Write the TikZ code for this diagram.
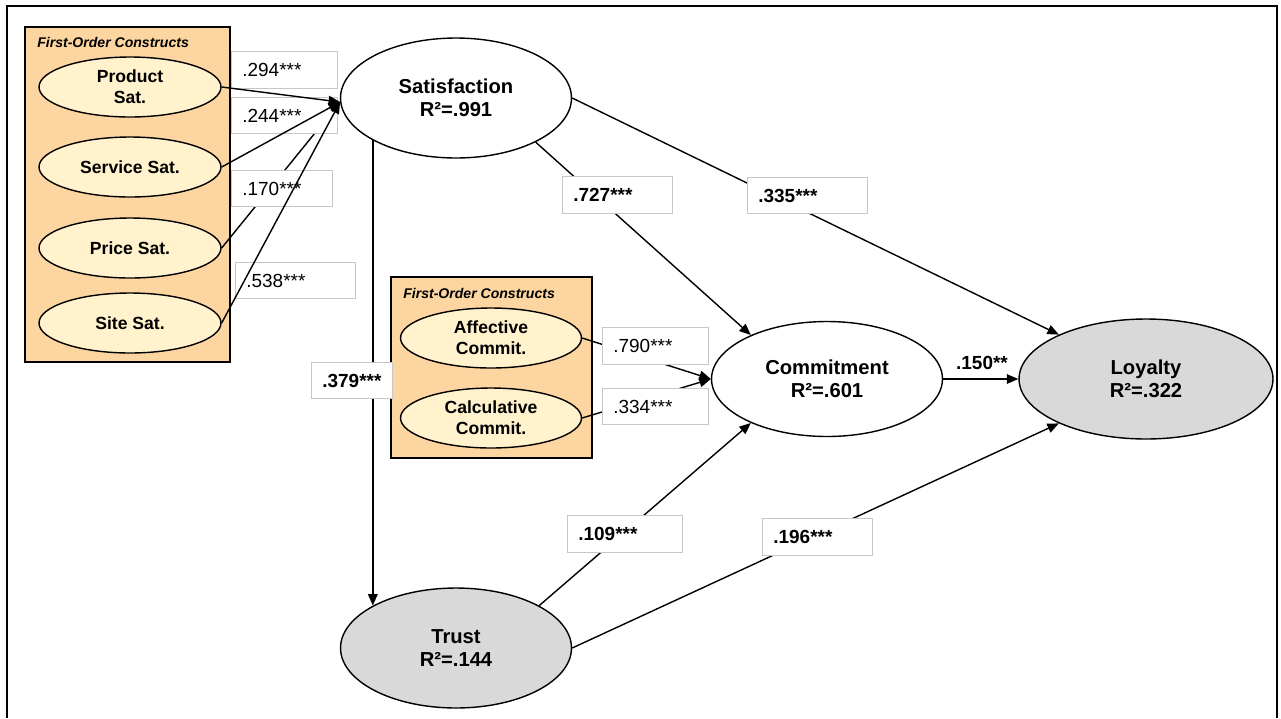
\documentclass[tikz,border=0pt]{standalone}
\usepackage{fontspec}
\setmainfont{Liberation Sans}
\usetikzlibrary{shapes.geometric,arrows.meta}
\definecolor{peach}{RGB}{252,213,160}
\definecolor{cream}{RGB}{255,242,204}
\definecolor{shade}{RGB}{217,217,217}
\begin{document}
\begin{tikzpicture}[x=0.02cm, y=-0.02cm, >={Triangle[length=2.3mm,width=1.9mm]},
    construct/.style={ellipse, draw, line width=0.8pt, align=center, inner sep=0pt,
        minimum width=4.62cm, minimum height=2.4cm, font=\fontsize{11.5}{13}\selectfont\bfseries},
    facet/.style={ellipse, draw, line width=0.8pt, fill=cream, align=center, inner sep=0pt,
        minimum width=3.64cm, minimum height=1.2cm, font=\fontsize{10}{12}\selectfont\bfseries},
    group/.style={draw, line width=0.8pt, fill=peach},
    grouptitle/.style={anchor=west, inner sep=0pt, font=\fontsize{8}{9}\selectfont\bfseries\itshape},
    coef/.style={draw=black!22, fill=white, anchor=west, inner xsep=0.22cm, minimum height=0.73cm,
        text width=#1, align=left, font=\fontsize{10.8}{12}\selectfont},
    link/.style={line width=0.8pt}]
    \useasboundingbox (0,0) rectangle (1281,718);
    \draw[line width=1.1pt] (7,718) -- (7,6) -- (1277,6) -- (1277,718);

    % first-order groups
    \draw[group] (25,27) rectangle (230,362);
    \node[grouptitle] (title1) at (37,42) {First-Order Constructs};
    \draw[group] (391,277) rectangle (592,458);
    \node[grouptitle] (title2) at (403,293) {First-Order Constructs};

    \node[facet] (prod) at (130,87) {Product\\Sat.};
    \node[facet] (serv) at (130,167) {Service Sat.};
    \node[facet] (price) at (130,248) {Price Sat.};
    \node[facet] (site) at (130,323) {Site Sat.};
    \node[facet, minimum width=3.62cm] (aff) at (491,338) {Affective\\Commit.};
    \node[facet, minimum width=3.62cm] (calc) at (491,418) {Calculative\\Commit.};

    % second-order constructs
    \node[construct] (sat) at (456,98) {Satisfaction\\R²=.991};
    \node[construct, minimum height=2.3cm] (com) at (827,379) {Commitment\\R²=.601};
    \node[construct, fill=shade, minimum width=5.08cm] (loy) at (1146,379) {Loyalty\\R²=.322};
    \node[construct, fill=shade] (trust) at (456,648) {Trust\\R²=.144};

    \draw[link,->] (price.east) -- (sat.182);
    \draw[link,->] (aff.east) -- (com.180);
    \draw[link,->] (calc.east) -- (com.180);
    \draw[link,->, line width=1pt] (sat.-153) -- (trust.153);
    \draw[link,->] (sat.-29) -- (com.150);
    \draw[link,->] (sat.0) -- (loy.153);
    \draw[link,->] (trust.27) -- (com.-150);
    \draw[link,->] (trust.0) -- (loy.-153);
    \draw[link,->] (com.east) -- (loy.west);
    \node[font=\fontsize{10.8}{12}\selectfont\bfseries] (c150) at (982,363) {.150**};

    % path coefficients
    \node[coef=1.68cm] (c294) at (231,70) {.294***};
    \node[coef=1.68cm] (c244) at (231,115.5) {.244***};
    \node[coef=1.58cm] (c170) at (231,188.5) {.170***};
    \node[coef=1.96cm] (c538) at (235,280.5) {.538***};
    \node[coef=1.18cm, font=\fontsize{10.8}{12}\selectfont\bfseries] (c379) at (311,380.5) {.379***};
    \node[coef=1.68cm] (c790) at (602,346) {.790***};
    \node[coef=1.68cm] (c334) at (602,406.5) {.334***};
    \node[coef=1.76cm, font=\fontsize{10.8}{12}\selectfont\bfseries] (c727) at (562,195) {.727***};
    \node[coef=1.96cm, font=\fontsize{10.8}{12}\selectfont\bfseries] (c335) at (747,195.5) {.335***};
    \node[coef=1.86cm, font=\fontsize{10.8}{12}\selectfont\bfseries] (c109) at (567,534) {.109***};
    \node[coef=1.76cm, font=\fontsize{10.8}{12}\selectfont\bfseries] (c196) at (762,537) {.196***};

    \draw[link,->] (prod.east) -- (sat.182);
    \draw[link,->] (serv.east) -- (sat.182);
    \draw[link,->] (site.east) -- (sat.182);
\end{tikzpicture}
\end{document}
